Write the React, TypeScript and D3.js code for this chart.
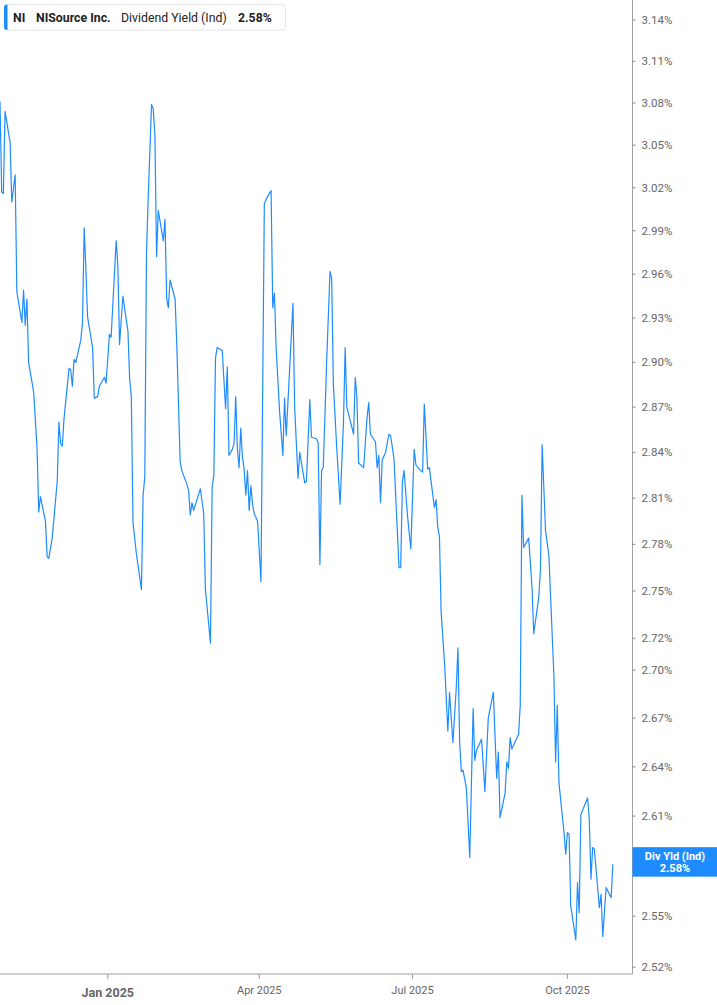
import * as d3 from "d3";

// NiSource dividend yield (indicated), one year of daily closes
const ticker = "NI";
const company = "NISource Inc.";
const metric = "Dividend Yield (Ind)";
const shortMetric = "Div Yld (Ind)";

const dates = [
  "2024-10-29", "2024-10-30", "2024-10-31", "2024-11-01", "2024-11-04", "2024-11-05", "2024-11-07", "2024-11-08",
  "2024-11-11", "2024-11-12", "2024-11-13", "2024-11-14", "2024-11-15", "2024-11-18", "2024-11-20", "2024-11-21",
  "2024-11-22", "2024-11-25", "2024-11-26", "2024-11-27", "2024-11-29", "2024-12-02", "2024-12-03", "2024-12-04",
  "2024-12-05", "2024-12-06", "2024-12-09", "2024-12-10", "2024-12-11", "2024-12-12", "2024-12-13", "2024-12-16",
  "2024-12-17", "2024-12-18", "2024-12-19", "2024-12-20", "2024-12-23", "2024-12-24", "2024-12-26", "2024-12-27",
  "2024-12-28", "2024-12-30", "2024-12-31", "2025-01-02", "2025-01-03", "2025-01-06", "2025-01-07", "2025-01-08",
  "2025-01-10", "2025-01-13", "2025-01-14", "2025-01-15", "2025-01-16", "2025-01-18", "2025-01-21", "2025-01-22",
  "2025-01-23", "2025-01-24", "2025-01-25", "2025-01-27", "2025-01-28", "2025-01-29", "2025-01-30", "2025-01-31",
  "2025-02-03", "2025-02-04", "2025-02-05", "2025-02-06", "2025-02-07", "2025-02-10", "2025-02-11", "2025-02-13",
  "2025-02-14", "2025-02-17", "2025-02-18", "2025-02-19", "2025-02-20", "2025-02-21", "2025-02-25", "2025-02-27",
  "2025-02-28", "2025-03-03", "2025-03-04", "2025-03-05", "2025-03-06", "2025-03-07", "2025-03-10", "2025-03-11",
  "2025-03-12", "2025-03-13", "2025-03-14", "2025-03-16", "2025-03-17", "2025-03-18", "2025-03-19", "2025-03-20",
  "2025-03-21", "2025-03-22", "2025-03-23", "2025-03-24", "2025-03-25", "2025-03-26", "2025-03-27", "2025-03-28",
  "2025-03-29", "2025-03-31", "2025-04-02", "2025-04-04", "2025-04-06", "2025-04-08", "2025-04-09", "2025-04-10",
  "2025-04-11", "2025-04-13", "2025-04-15", "2025-04-16", "2025-04-17", "2025-04-21", "2025-04-22", "2025-04-24",
  "2025-04-25", "2025-04-28", "2025-04-29", "2025-05-01", "2025-05-02", "2025-05-05", "2025-05-06", "2025-05-07",
  "2025-05-08", "2025-05-09", "2025-05-11", "2025-05-13", "2025-05-14", "2025-05-15", "2025-05-17", "2025-05-19",
  "2025-05-21", "2025-05-22", "2025-05-23", "2025-05-25", "2025-05-27", "2025-05-28", "2025-05-29", "2025-05-30",
  "2025-06-02", "2025-06-04", "2025-06-05", "2025-06-06", "2025-06-09", "2025-06-10", "2025-06-11", "2025-06-12",
  "2025-06-13", "2025-06-15", "2025-06-17", "2025-06-18", "2025-06-20", "2025-06-23", "2025-06-24", "2025-06-25",
  "2025-06-26", "2025-06-28", "2025-06-30", "2025-07-02", "2025-07-03", "2025-07-05", "2025-07-07", "2025-07-08",
  "2025-07-10", "2025-07-11", "2025-07-14", "2025-07-15", "2025-07-16", "2025-07-17", "2025-07-18", "2025-07-20",
  "2025-07-22", "2025-07-23", "2025-07-25", "2025-07-27", "2025-07-28", "2025-07-29", "2025-07-30", "2025-07-31",
  "2025-08-02", "2025-08-04", "2025-08-06", "2025-08-07", "2025-08-08", "2025-08-11", "2025-08-13", "2025-08-15",
  "2025-08-18", "2025-08-20", "2025-08-21", "2025-08-22", "2025-08-25", "2025-08-26", "2025-08-27", "2025-08-28",
  "2025-08-29", "2025-09-02", "2025-09-03", "2025-09-04", "2025-09-05", "2025-09-08", "2025-09-10", "2025-09-11",
  "2025-09-14", "2025-09-15", "2025-09-16", "2025-09-18", "2025-09-20", "2025-09-23", "2025-09-24", "2025-09-25",
  "2025-09-26", "2025-09-29", "2025-09-30", "2025-10-01", "2025-10-02", "2025-10-03", "2025-10-06", "2025-10-07",
  "2025-10-08", "2025-10-09", "2025-10-13", "2025-10-14", "2025-10-15", "2025-10-16", "2025-10-17", "2025-10-20",
  "2025-10-21", "2025-10-22", "2025-10-24", "2025-10-27", "2025-10-28",
];

const yields = [
  3.081, 3.017, 3.016, 3.074, 3.052, 3.01, 3.029, 2.948,
  2.927, 2.949, 2.925, 2.943, 2.9, 2.88, 2.843, 2.801,
  2.811, 2.795, 2.772, 2.771, 2.784, 2.821, 2.86, 2.846,
  2.844, 2.862, 2.896, 2.895, 2.884, 2.902, 2.9, 2.915,
  2.927, 2.992, 2.964, 2.931, 2.91, 2.876, 2.877, 2.884,
  2.886, 2.89, 2.886, 2.919, 2.917, 2.983, 2.966, 2.912,
  2.945, 2.921, 2.889, 2.877, 2.794, 2.774, 2.751, 2.812,
  2.824, 2.974, 3.012, 3.079, 3.076, 3.057, 2.972, 3.004,
  2.983, 2.998, 2.943, 2.937, 2.956, 2.943, 2.912, 2.834,
  2.828, 2.819, 2.815, 2.799, 2.807, 2.802, 2.816, 2.8,
  2.751, 2.717, 2.817, 2.825, 2.903, 2.91, 2.908, 2.888,
  2.869, 2.897, 2.838, 2.842, 2.846, 2.877, 2.842, 2.83,
  2.856, 2.837, 2.829, 2.812, 2.828, 2.802, 2.818, 2.806,
  2.8, 2.795, 2.756, 3.009, 3.014, 3.018, 2.937, 2.947,
  2.91, 2.868, 2.838, 2.876, 2.851, 2.94, 2.87, 2.823,
  2.84, 2.82, 2.821, 2.875, 2.85, 2.849, 2.846, 2.767,
  2.828, 2.83, 2.9, 2.962, 2.957, 2.885, 2.843, 2.806,
  2.86, 2.91, 2.87, 2.861, 2.852, 2.89, 2.876, 2.833,
  2.83, 2.863, 2.873, 2.852, 2.847, 2.83, 2.838, 2.807,
  2.835, 2.84, 2.852, 2.851, 2.836, 2.765, 2.765, 2.821,
  2.828, 2.799, 2.777, 2.842, 2.832, 2.829, 2.827, 2.872,
  2.829, 2.83, 2.804, 2.809, 2.791, 2.785, 2.737, 2.705,
  2.662, 2.686, 2.655, 2.689, 2.714, 2.655, 2.637, 2.638,
  2.627, 2.585, 2.676, 2.644, 2.65, 2.657, 2.625, 2.67,
  2.686, 2.633, 2.649, 2.609, 2.624, 2.643, 2.639, 2.658,
  2.651, 2.66, 2.678, 2.812, 2.778, 2.784, 2.752, 2.723,
  2.746, 2.764, 2.845, 2.789, 2.773, 2.696, 2.643, 2.678,
  2.63, 2.6, 2.587, 2.6, 2.599, 2.556, 2.536, 2.57,
  2.552, 2.611, 2.621, 2.608, 2.572, 2.591, 2.59, 2.555,
  2.563, 2.538, 2.567, 2.561, 2.581,
];

const yTicks = [
  3.14, 3.11, 3.08, 3.05, 3.02, 2.99, 2.96, 2.93, 2.9, 2.87, 2.84,
  2.81, 2.78, 2.75, 2.72, 2.7, 2.67, 2.64, 2.61, 2.58, 2.55, 2.52,
];

const xTicks = ["2025-01-01", "2025-04-01", "2025-07-01", "2025-10-01"];
const xTickLabels = ["Jan 2025", "Apr 2025", "Jul 2025", "Oct 2025"];

const BLUE = "#1e8cff";
const FONT = "Roboto, 'Noto Sans', sans-serif";

export default function App() {
  const width = 717;
  const height = 1005;
  const plotRight = 632.5;
  const plotBottom = 974;

  const parse = d3.timeParse("%Y-%m-%d");
  const points = dates.map((d, i) => ({ date: parse(d) as Date, value: yields[i] }));
  const last = points[points.length - 1];

  const x = d3
    .scaleTime()
    .domain([new Date(2024, 9, 29), new Date(2025, 10, 8, 16)])
    .range([0, plotRight]);
  const y = d3.scaleLog().domain([2.516, 3.1546]).range([plotBottom, 0]);

  const path = d3
    .line<{ date: Date; value: number }>()
    .x((p) => x(p.date))
    .y((p) => y(p.value))(points);

  const fmt = (v: number) => `${v.toFixed(2)}%`;
  const lastY = y(last.value);
  const tagTop = lastY - 17;
  const tagH = 29.5;

  return (
    <svg
      width={width}
      height={height}
      viewBox={`0 0 ${width} ${height}`}
      style={{ position: "absolute", left: 0, top: 0, background: "#fff" }}
      fontFamily={FONT}
    >
      <defs>
        <clipPath id="plot-clip">
          <rect x={0} y={0} width={plotRight} height={plotBottom} />
        </clipPath>
      </defs>

      {/* y axis on the right */}
      <line x1={plotRight} y1={0} x2={plotRight} y2={plotBottom} stroke="#a0a0a0" />
      {yTicks.map((t) => {
        // the last-value tag sits on top of this tick's label
        const hidden = y(t) > tagTop - 2 && y(t) < tagTop + tagH + 2;
        return (
          <g key={t}>
            <line x1={plotRight} x2={plotRight + 3} y1={y(t)} y2={y(t)} stroke="#888" />
            {!hidden && (
              <text x={plotRight + 9} y={y(t) + 4} fontSize={11.5} fill="#666">
                {fmt(t)}
              </text>
            )}
          </g>
        );
      })}

      {/* x axis */}
      <line x1={0} y1={plotBottom} x2={plotRight} y2={plotBottom} stroke="#a0a0a0" />
      {xTicks.map((t, i) => {
        const d = parse(t) as Date;
        const yearStart = d.getMonth() === 0;
        return (
          <g key={t}>
            <line x1={x(d)} x2={x(d)} y1={plotBottom} y2={plotBottom + 5} stroke="#999" />
            <text
              x={x(d)}
              y={yearStart ? 997 : 994}
              textAnchor="middle"
              fontSize={yearStart ? 12.5 : 11}
              fontWeight={yearStart ? 700 : 400}
              fill="#666"
            >
              {xTickLabels[i]}
            </text>
          </g>
        );
      })}

      <path
        d={path ?? ""}
        fill="none"
        stroke={BLUE}
        strokeWidth={1.2}
        strokeLinejoin="round"
        clipPath="url(#plot-clip)"
      />

      {/* last value tag */}
      <g>
        <rect x={plotRight} y={tagTop} width={width - plotRight} height={tagH} fill={BLUE} />
        <text x={675} y={lastY - 4} textAnchor="middle" fontSize={11} fontWeight={700} fill="#fff">
          {shortMetric}
        </text>
        <text x={675} y={lastY + 7.5} textAnchor="middle" fontSize={11} fontWeight={700} fill="#fff">
          {fmt(last.value)}
        </text>
      </g>

      {/* legend */}
      <g>
        <rect x={4.5} y={4.5} width={281} height={25.5} rx={3} fill="#fff" stroke="#e3e3e3" />
        <path d="M7.5,4.5 h-0.5 a3,3 0 0 0 -3,3 v19.5 a3,3 0 0 0 3,3 h0.5 z" fill={BLUE} />
        <text y={21.5} fontSize={12.3} fill="#222">
          <tspan x={13} fontWeight={700}>{ticker}</tspan>
          <tspan x={36} fontWeight={700}>{company}</tspan>
          <tspan x={121} fontWeight={400}>{metric}</tspan>
          <tspan x={238} fontWeight={700}>{fmt(last.value)}</tspan>
        </text>
      </g>
    </svg>
  );
}
